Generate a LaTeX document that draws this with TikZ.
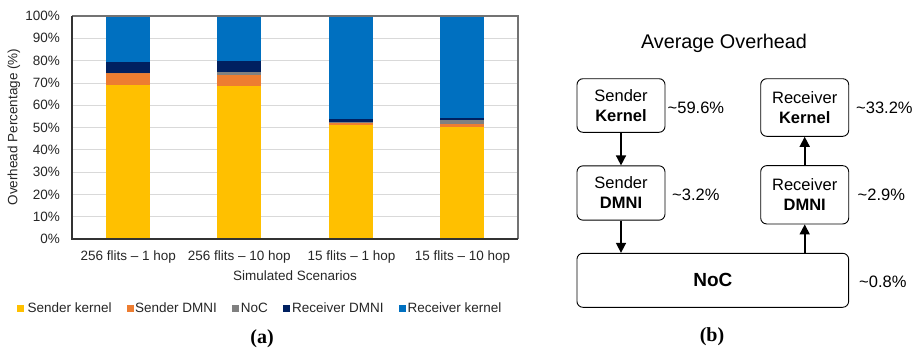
\documentclass[tikz,border=0pt]{standalone}
\usepackage{fontspec}
\setmainfont{Liberation Sans}
\newfontfamily\capfont{Liberation Serif}
\usetikzlibrary{arrows.meta}

\definecolor{skern}{HTML}{FFC000}
\definecolor{sdmni}{HTML}{ED7D31}
\definecolor{noccol}{HTML}{808080}
\definecolor{rdmni}{HTML}{002060}
\definecolor{rkern}{HTML}{0070C0}
\definecolor{txt}{HTML}{262626}
\definecolor{gridc}{HTML}{D9D9D9}

\tikzset{
  charttext/.style={text=txt, font=\fontsize{13.5}{16}\selectfont, inner sep=0pt},
  gridline/.style={draw=gridc, line width=0.8pt},
  axisline/.style={draw=black!80, line width=1.4pt},
  frameline/.style={draw=black!55, line width=1.4pt},
  legsq/.style={minimum size=7pt, inner sep=0pt},
  blockbox/.style={draw=black, line width=0.9pt, rounded corners=6pt, align=center,
    font=\fontsize{16.5}{20}\selectfont, inner sep=0pt},
  pct/.style={anchor=west, font=\fontsize{16.5}{20}\selectfont, inner sep=0pt},
  flow/.style={line width=1.6pt, -{Triangle[length=10pt,width=10pt]}},
  caption/.style={font=\capfont\bfseries\fontsize{20}{24}\selectfont, inner sep=0pt}
}

\begin{document}
\begin{tikzpicture}[x=1pt, y=-1pt]
\useasboundingbox (0,0) rectangle (917,356);

% ---------- (a) stacked bar chart ----------
% horizontal grid lines
\foreach \p in {10,20,...,90}
  \draw[gridline] (72,{239-2.23*\p}) -- (518,{239-2.23*\p});

% stacked bars: centre / sender kernel / + sender DMNI / + NoC / + receiver DMNI (cumulative %)
\foreach \c/\a/\b/\g/\n in {127.75/69/74.4/74.4/79.5,
                           239.25/68.6/73.5/75/79.8,
                           350.75/51.1/52.3/52.5/53.7,
                           462.25/50.2/51.4/53.5/54.1} {
  \fill[skern] (\c-22,239) rectangle (\c+22,{239-2.23*\a});
  \fill[sdmni] (\c-22,{239-2.23*\a}) rectangle (\c+22,{239-2.23*\b});
  \fill[noccol] (\c-22,{239-2.23*\b}) rectangle (\c+22,{239-2.23*\g});
  \fill[rdmni] (\c-22,{239-2.23*\g}) rectangle (\c+22,{239-2.23*\n});
  \fill[rkern] (\c-22,{239-2.23*\n}) rectangle (\c+22,16.7);
}

% plot frame and axes
\draw[frameline] (72,16) -- (518,16) -- (518,239);
\draw[axisline] (72,16) -- (72,239) -- (518,239);

% y tick labels
\foreach \p in {0,10,...,100}
  \node[charttext, anchor=east] (tick\p) at (60,{239-2.23*\p}) {\p\%};

% axis titles
\node[charttext, rotate=90] (ytitle) at (14,127) {Overhead Percentage (\%)};
\node[charttext] (xtitle) at (295,276) {Simulated Scenarios};

% category labels
\node[charttext] (cat1) at (128.2,257) {256 flits – 1 hop};
\node[charttext] (cat2) at (239.3,257) {256 flits – 10 hop};
\node[charttext] (cat3) at (351.5,257) {15 flits – 1 hop};
\node[charttext] (cat4) at (462.5,257) {15 flits – 10 hop};

% legend
\node[legsq, fill=skern] (lg1) at (20.7,308) {};
\node[charttext, anchor=west] (lt1) at (27.3,308) {Sender kernel};
\node[legsq, fill=sdmni] (lg2) at (130.3,308) {};
\node[charttext, anchor=west] (lt2) at (135,308) {Sender DMNI};
\node[legsq, fill=noccol] (lg3) at (235.5,308) {};
\node[charttext, anchor=west] (lt3) at (240.7,308) {NoC};
\node[legsq, fill=rdmni] (lg4) at (286.5,308) {};
\node[charttext, anchor=west] (lt4) at (292,308) {Receiver DMNI};
\node[legsq, fill=rkern] (lg5) at (402.3,308) {};
\node[charttext, anchor=west] (lt5) at (407.5,308) {Receiver kernel};

\node[caption] (capa) at (262,339) {(a)};

% ---------- (b) average overhead flow ----------
\node[font=\fontsize{19.8}{23}\selectfont, inner sep=0pt] (title) at (724,43.5) {Average Overhead};

\node[blockbox, minimum width=88pt, minimum height=53.6pt] (sk) at (621,105.5)
  {Sender\\\textbf{Kernel}};
\node[blockbox, minimum width=88pt, minimum height=57.6pt] (rk) at (804.7,107.5)
  {Receiver\\\textbf{Kernel}};
\node[blockbox, minimum width=88pt, minimum height=54.3pt] (sd) at (621,193)
  {Sender\\\textbf{DMNI}};
\node[blockbox, minimum width=88pt, minimum height=58.3pt] (rd) at (804.7,194.8)
  {Receiver\\\textbf{DMNI}};
\node[blockbox, minimum width=271.7pt, minimum height=54pt,
      font=\fontsize{19}{22}\selectfont\bfseries] (noc) at (712.8,280.3) {NoC};

\draw[flow] (sk.south) -- (sd.north);
\draw[flow] (sd.south) -- (sd.south |- noc.north);
\draw[flow] (rd.south |- noc.north) -- (rd.south);
\draw[flow] (rd.north) -- (rk.south);

\node[pct] (psk) at (667.5,108) {\textasciitilde 59.6\%};
\node[pct] (prk) at (856,108) {\textasciitilde 33.2\%};
\node[pct] (psd) at (672,195) {\textasciitilde 3.2\%};
\node[pct] (prd) at (857.5,195) {\textasciitilde 2.9\%};
\node[pct] (pnoc) at (859,282) {\textasciitilde 0.8\%};

\node[caption] (capb) at (712,337) {(b)};
\end{tikzpicture}
\end{document}
